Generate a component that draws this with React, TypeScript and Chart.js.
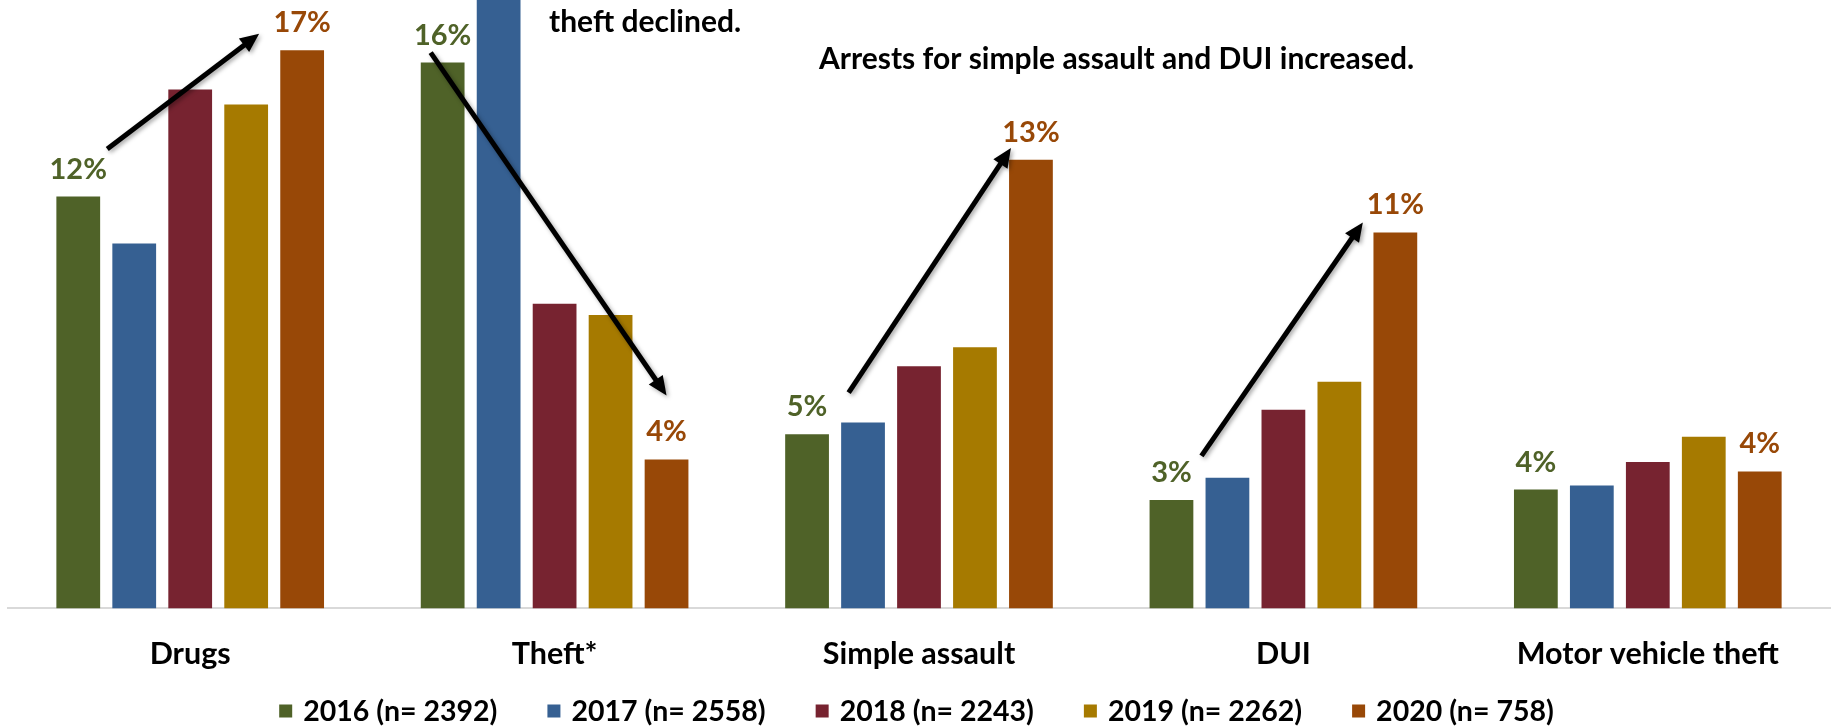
import React, { useEffect, useRef } from 'react';
import { Chart, registerables } from 'chart.js';

Chart.register(...registerables);

// ---------- data ----------
const categories = ['Drugs', 'Theft*', 'Simple assault', 'DUI', 'Motor vehicle theft'];
const seriesLabels = ['2016 (n= 2392)', '2017 (n= 2558)', '2018 (n= 2243)', '2019 (n= 2262)', '2020 (n= 758)'];
const values2016 = [12.3, 16.3, 5.2, 3.24, 3.55];
const values2017 = [10.9, 19.0, 5.55, 3.9, 3.67];
const values2018 = [15.5, 9.1, 7.23, 5.93, 4.37];
const values2019 = [15.05, 8.76, 7.8, 6.77, 5.13];
const values2020 = [16.67, 4.45, 13.4, 11.23, 4.09];
const seriesColors = ['#4F6228', '#366092', '#772330', '#A67A00', '#984807'];
const annotationTexts = ['theft declined.', 'Arrests for simple assault and DUI increased.'];
const yAxisMax = 18.17;

// ---------- style ----------
const FONT = 'Lato, "Open Sans", sans-serif';
const WORD_SIZE = 30.5;
const NOTE_SIZE = 30;
const LABEL_SIZE = 29;
const LEGEND_SIZE = 28.5;

// arrows: from the 2016 bar to the 2020 bar of a category, offsets in px
const arrowSpecs = [
  { cat: 0, sdx: 29, sdy: 47.5, edx: -43, edy: 16.5 },
  { cat: 1, sdx: -12, sdy: 10, edx: 0, edy: 64 },
  { cat: 2, sdx: 41.6, sdy: 41.7, edx: -20, edy: 11.6 },
  { cat: 3, sdx: 30, sdy: 44, edx: -32.5, edy: 10 },
];

function drawArrow(ctx: CanvasRenderingContext2D, x1: number, y1: number, x2: number, y2: number) {
  const ang = Math.atan2(y2 - y1, x2 - x1);
  const c = Math.cos(ang);
  const s = Math.sin(ang);
  const headLen = 19;
  const headHalf = 8.5;
  const bx = x2 - headLen * c;
  const by = y2 - headLen * s;
  ctx.save();
  ctx.shadowColor = 'rgba(0,0,0,0.35)';
  ctx.shadowBlur = 4;
  ctx.shadowOffsetX = 2;
  ctx.shadowOffsetY = 2;
  ctx.strokeStyle = '#000';
  ctx.fillStyle = '#000';
  ctx.lineWidth = 5;
  ctx.lineCap = 'butt';
  ctx.beginPath();
  ctx.moveTo(x1, y1);
  ctx.lineTo(bx + 3 * c, by + 3 * s);
  ctx.stroke();
  ctx.beginPath();
  ctx.moveTo(x2, y2);
  ctx.lineTo(bx + headHalf * s, by - headHalf * c);
  ctx.lineTo(bx - headHalf * s, by + headHalf * c);
  ctx.closePath();
  ctx.fill();
  ctx.restore();
}

const overlayPlugin = {
  id: 'overlay',
  afterDatasetsDraw(chart: any) {
    const ctx: CanvasRenderingContext2D = chart.ctx;
    ctx.save();
    // value labels for first and last series
    ctx.font = `bold ${LABEL_SIZE}px ${FONT}`;
    ctx.textAlign = 'center';
    ctx.textBaseline = 'alphabetic';
    [0, chart.data.datasets.length - 1].forEach((di) => {
      const meta = chart.getDatasetMeta(di);
      const ds = chart.data.datasets[di];
      meta.data.forEach((bar: any, i: number) => {
        ctx.fillStyle = ds.backgroundColor;
        ctx.fillText(Math.round(ds.data[i]) + '%', bar.x, bar.y - 18);
      });
    });

    // arrows
    const lastIdx = chart.data.datasets.length - 1;
    arrowSpecs.forEach((a) => {
      const sb = chart.getDatasetMeta(0).data[a.cat];
      const eb = chart.getDatasetMeta(lastIdx).data[a.cat];
      drawArrow(ctx, sb.x + a.sdx, sb.y - a.sdy, eb.x + a.edx, eb.y - a.edy);
    });

    // annotation texts
    ctx.font = `bold ${NOTE_SIZE}px ${FONT}`;
    ctx.fillStyle = '#000';
    ctx.textAlign = 'left';
    ctx.textBaseline = 'alphabetic';
    ctx.fillText(annotationTexts[0], 549, 32);
    ctx.fillText(annotationTexts[1], 819, 69);

    // legend
    ctx.font = `bold ${LEGEND_SIZE}px ${FONT}`;
    ctx.textBaseline = 'middle';
    const box = 13;
    const gap = 11;
    const spacing = 50;
    const items = chart.data.datasets.map((ds: any) => ({
      text: ds.label,
      color: ds.backgroundColor,
      w: ctx.measureText(ds.label).width,
    }));
    const total = items.reduce((acc: number, it: any) => acc + box + gap + it.w, 0) + spacing * (items.length - 1);
    let x = (chart.width - total) / 2;
    const cy = 711;
    items.forEach((it: any) => {
      ctx.fillStyle = it.color;
      ctx.fillRect(x, cy - box / 2, box, box);
      ctx.fillStyle = '#000';
      ctx.fillText(it.text, x + box + gap, cy + 1);
      x += box + gap + it.w + spacing;
    });
    ctx.restore();
  },
};

export default function App() {
  const canvasRef = useRef<HTMLCanvasElement | null>(null);

  useEffect(() => {
    document.body.style.margin = '0';
    const canvas = canvasRef.current;
    if (!canvas) return;
    const allValues = [values2016, values2017, values2018, values2019, values2020];
    const chart = new Chart(canvas, {
      type: 'bar',
      data: {
        labels: categories,
        datasets: allValues.map((vals, i) => ({
          label: seriesLabels[i],
          data: vals,
          backgroundColor: seriesColors[i],
          borderWidth: 0,
          categoryPercentage: 0.768,
          barPercentage: 0.782,
        })),
      },
      options: {
        responsive: false,
        animation: false,
        devicePixelRatio: 1,
        events: [],
        layout: { padding: { top: 0, left: 8, right: 3, bottom: 28 } },
        plugins: {
          legend: { display: false },
          tooltip: { enabled: false },
          title: { display: false },
        },
        scales: {
          x: {
            grid: { display: false, drawTicks: false },
            border: { display: true, color: '#D9D9D9', width: 2 },
            ticks: {
              color: '#000',
              padding: 27,
              maxRotation: 0,
              autoSkip: false,
              font: { family: FONT, size: WORD_SIZE, weight: 'bold', lineHeight: 1.2 },
            },
          },
          y: {
            display: false,
            min: 0,
            max: yAxisMax,
          },
        },
      },
      plugins: [overlayPlugin],
    });
    return () => chart.destroy();
  }, []);

  return (
    <div style={{ width: 1833, height: 727, position: 'relative', background: '#fff' }}>
      <canvas ref={canvasRef} width={1833} height={727} style={{ display: 'block' }} />
    </div>
  );
}
